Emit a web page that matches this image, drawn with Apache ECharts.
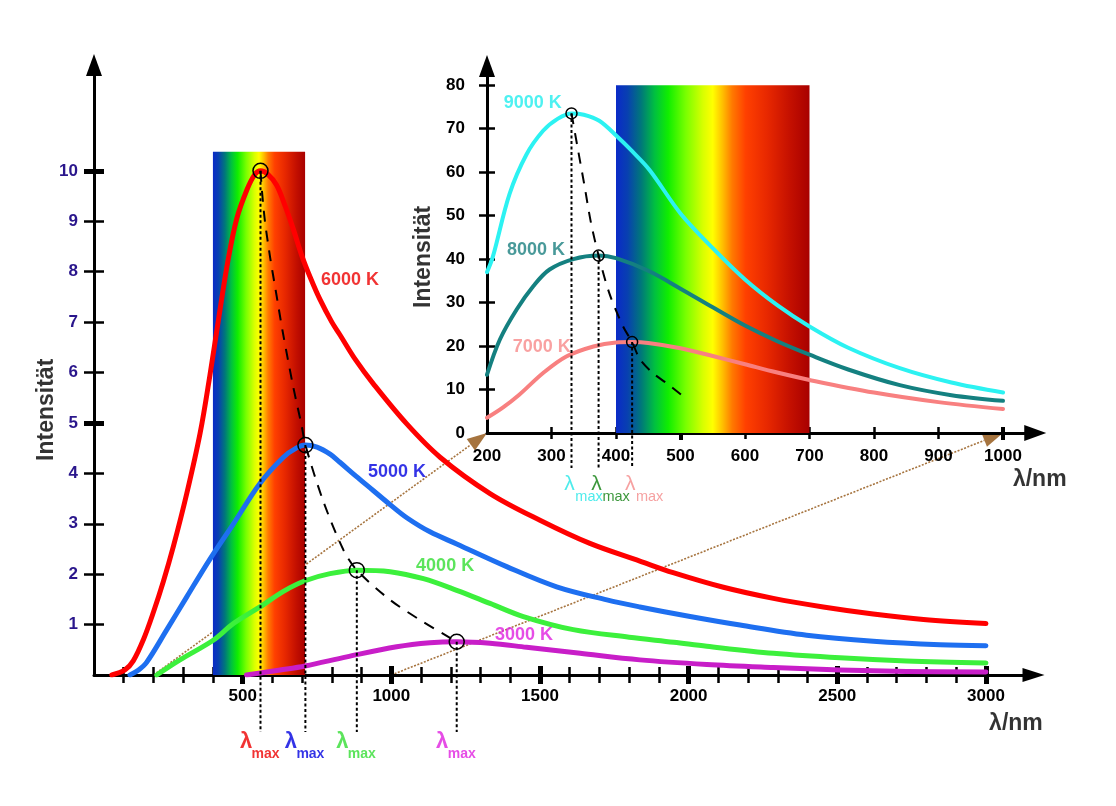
<!DOCTYPE html>
<html>
<head>
<meta charset="utf-8">
<title>Planck</title>
<script src="https://cdn.jsdelivr.net/npm/echarts@6/dist/echarts.min.js"></script>
<style>
  html, body { margin: 0; padding: 0; background: #fff; }
  #chart { width: 1116px; height: 806px; }
</style>
</head>
<body>
<div id="chart"></div>
<script>
const FONT = 'Liberation Sans, Arial, sans-serif'
const INDIGO = '#2a168c'

// --- Hauptdiagramm (nm, Intensität) ---
const t6000 = [[60,0],[104,0.1],[132,0.28],[166,0.7],[200,1.25],[233,1.85],[267,2.55],[312,3.6],[357,4.8],[390,5.95],[420,7.1],[450,8.2],[480,9.05],[514,9.62],[540,9.92],[560,10],[585,9.93],[614,9.72],[640,9.35],[670,8.85],[700,8.3],[730,7.85],[760,7.45],[800,7.0],[827,6.75],[880,6.25],[939,5.78],[1052,4.98],[1164,4.32],[1332,3.6],[1500,3.07],[1668,2.61],[1836,2.26],[1948,2.03],[2117,1.74],[2285,1.52],[2453,1.35],[2621,1.21],[2790,1.1],[3000,1.02]]
const t5000 = [[121,0],[150,0.1],[177,0.25],[244,0.89],[312,1.55],[390,2.3],[469,3.0],[558,3.8],[637,4.32],[680,4.5],[711,4.56],[750,4.52],[794,4.38],[827,4.22],[880,3.95],[939,3.66],[1000,3.36],[1052,3.12],[1130,2.84],[1220,2.6],[1388,2.15],[1556,1.75],[1725,1.49],[1836,1.35],[2005,1.16],[2173,0.99],[2397,0.79],[2621,0.67],[2846,0.6],[3000,0.58]]
const t4000 = [[211,0],[289,0.3],[401,0.69],[469,1.02],[558,1.35],[637,1.66],[710,1.87],[794,2.01],[884,2.08],[996,2.05],[1108,1.91],[1220,1.68],[1332,1.42],[1444,1.16],[1612,0.9],[1800,0.75],[1950,0.65],[2061,0.57],[2285,0.43],[2509,0.34],[2733,0.28],[3000,0.24]]
const t3000 = [[513,0],[626,0.1],[710,0.18],[850,0.36],[1018,0.56],[1130,0.64],[1220,0.66],[1332,0.63],[1455,0.55],[1635,0.43],[1836,0.3],[2061,0.21],[2285,0.15],[2509,0.1],[2733,0.07],[3000,0.06]]
const peaksMain = [[560,10],[711,4.56],[884,2.08],[1220,0.66]]
const wienMain = [[560,10],[565,9.6],[575,9.0],[592,8.3],[612,7.6],[635,6.8],[670,5.72],[699,4.93],[711,4.56],[771,3.45],[839,2.48],[884,2.08],[996,1.49],[1108,1.05],[1220,0.66]]
const tempsMain = ['6000 K', '5000 K', '4000 K', '3000 K']
const tempsMainAt = [[861,7.84],[1019,4.03],[1181,2.16],[1446,0.79]]
const bandMain = [400, 710, 10.38]
const mainXTicks = [100,200,300,400,500,600,700,800,900,1000,1100,1200,1300,1400,1500,1600,1700,1800,1900,2000,2100,2200,2300,2400,2500,2600,2700,2800,2900,3000]
const mainXMajor = [500,1000,1500,2000,2500,3000]
const mainYTicks = [1,2,3,4,5,6,7,8,9,10]
const mainYMajor = [5,10]

// --- Ausschnitt (200 - 1000 nm) ---
const t9000 = [[200,37],[209,40.5],[235,55],[261,64],[287,69.5],[310,72.3],[331,73.5],[350,73.2],[374,71.8],[401,68.3],[425,64.8],[452,60.5],[500,50.5],[550,42.5],[600,35.3],[650,29.4],[700,24.5],[760,19.6],[840,14.9],[920,11.6],[1000,9.3]]
const t8000 = [[200,13.4],[220,21.5],[246,28.4],[272,33.8],[297,37.6],[334,40],[373,40.8],[400,40.2],[450,37.3],[500,33.2],[550,28.9],[600,24.7],[650,21.1],[700,18],[760,14.6],[840,11],[920,8.7],[1000,7.4]]
const t7000 = [[200,3.5],[225,5.9],[250,8.8],[287,13.8],[323,17.6],[365,19.9],[400,20.8],[425,20.9],[450,20.7],[500,19.5],[550,17.7],[600,15.8],[650,13.9],[700,12.2],[800,9.3],[900,7.1],[1000,5.5]]
const peaksInset = [[331,73.5],[373,40.8],[425,20.9]]
const wienInset = [[331,73.5],[340,66],[351,57],[361,48.5],[373,40.8],[390,32],[411,24.5],[425,20.9],[437,17],[457,13.8],[478,11.5],[501,8.8]]
const tempsInset = ['9000 K', '8000 K', '7000 K']
const tempsInsetAt = [[271,75.9],[276,42.1],[285,19.8]]
const bandInset = [400, 700, 80]
const insetXLabels = [200,300,400,500,600,700,800,900,1000]
const insetXTicks = [300,400,500,600,700,800,900,1000]
const insetXMajor = [500,1000]
const insetYLabels = [0,10,20,30,40,50,60,70,80]
const insetYTicks = [10,20,30,40,50,60,70,80]

// Pfeile vom Hauptdiagramm in den Ausschnitt (nm unten -> nm oben)
const zoomLinks = [[200, 200], [1000, 1000]]

const mainColors = ['#ff0000', '#1e6ff0', '#3cf03c', '#c81ec8']
const mainTextColors = ['#ee0000', '#0000e0', '#33dd33', '#e020e0']
const insetColors = ['#2cf2f2', '#148080', '#f88080']
const insetTextColors = ['#22eeee', '#1a8080', '#f88a8a']
const insetLambdaColors = ['#22e6e6', '#0b7d0b', '#f48a8a']

const spectrumStops = [
  { offset: 0, color: '#0a2ac8' }, { offset: 0.06, color: '#0840b0' },
  { offset: 0.13, color: '#00787a' }, { offset: 0.2, color: '#00c040' },
  { offset: 0.27, color: '#10ee00' }, { offset: 0.36, color: '#78ff00' },
  { offset: 0.45, color: '#d8ff00' }, { offset: 0.5, color: '#ffff00' },
  { offset: 0.55, color: '#ffc000' }, { offset: 0.6, color: '#ff7a00' },
  { offset: 0.67, color: '#ff4000' }, { offset: 0.78, color: '#e82800' },
  { offset: 0.9, color: '#c41000' }, { offset: 1, color: '#a80000' }
]

const chart = echarts.init(document.getElementById('chart'))

// Achsen: eine mit Linie + Beschriftung, weitere nur für Striche (beidseitig durch offset)
const xBase = (grid, min, max) => ({
    type: 'value', gridIndex: grid, min, max, position: 'bottom',
    splitLine: { show: false }
})
const yBase = (grid, min, max) => ({
    type: 'value', gridIndex: grid, min, max, position: 'left',
    splitLine: { show: false }
})
const lineAxis = (size) => ({
    show: true, onZero: false,
    lineStyle: { color: '#000', width: 3 },
    symbol: ['none', 'triangle'], symbolSize: size
})
const tickOnly = (values, offset, length, width) => ({
    offset,
    axisLine: { show: false, onZero: false },
    axisLabel: { show: false },
    axisTick: { show: true, customValues: values, length, lineStyle: { color: '#000', width } }
})
const labelStyle = (values, margin, color) => ({
    customValues: values, margin, color,
    formatter: (v) => String(v),
    fontSize: 17, fontWeight: 'bold', fontFamily: FONT
})

const xAxis = [
    { ...xBase(0, 0, 3160), axisLine: lineAxis([14, 22]), axisTick: { show: false },
      axisLabel: labelStyle(mainXMajor, 13, (v) => v === 500 ? INDIGO : '#000') },
    { ...xBase(0, 0, 3160), ...tickOnly(mainXTicks, -8, 16, 2.5) },
    { ...xBase(0, 0, 3160), ...tickOnly(mainXMajor, -9, 18, 5) },
    { ...xBase(1, 200, 1050), axisLine: lineAxis([16, 22]), axisTick: { show: false },
      axisLabel: labelStyle(insetXLabels, 15, '#000') },
    { ...xBase(1, 200, 1050), ...tickOnly(insetXTicks, -6, 12, 2.5) },
    { ...xBase(1, 200, 1050), ...tickOnly(insetXMajor, -6, 13, 4) }
]
const yAxis = [
    { ...yBase(0, 0, 12.1), axisLine: lineAxis([16, 22]), axisTick: { show: false },
      axisLabel: labelStyle(mainYTicks, 16, INDIGO) },
    { ...yBase(0, 0, 12.1), ...tickOnly(mainYTicks, -10, 20, 2.5) },
    { ...yBase(0, 0, 12.1), ...tickOnly(mainYMajor, -10, 20, 5) },
    { ...yBase(1, 0, 84.4), axisLine: lineAxis([16, 22]), axisTick: { show: false },
      axisLabel: labelStyle(insetYLabels, 22, '#000') },
    { ...yBase(1, 0, 84.4), ...tickOnly(insetYTicks, -8, 16, 2.5) }
]

const spectrum = (band, xi, yi) => ({
    type: 'custom', xAxisIndex: xi, yAxisIndex: yi, z: 1, silent: true, data: [band],
    renderItem: (params, api) => {
        const a = api.coord([api.value(0), api.value(2)])
        const b = api.coord([api.value(1), 0])
        return {
            type: 'rect',
            shape: { x: a[0], y: a[1], width: b[0] - a[0], height: b[1] - a[1] },
            style: { fill: new echarts.graphic.LinearGradient(0, 0, 1, 0, spectrumStops) }
        }
    }
})
const curve = (data, color, width, xi, yi) => ({
    type: 'line', data, xAxisIndex: xi, yAxisIndex: yi, smooth: 0.35,
    showSymbol: false, silent: true, z: 3,
    lineStyle: { color, width, cap: 'round', join: 'round' }
})
const dashed = (data, xi, yi) => ({
    type: 'line', data, xAxisIndex: xi, yAxisIndex: yi, smooth: 0.3, showSymbol: false,
    silent: true, z: 4, lineStyle: { color: '#000', width: 2, type: [11, 9] }
})
const drop = (p, bottom, xi, yi) => ({
    type: 'line', data: [p, [p[0], bottom]], xAxisIndex: xi, yAxisIndex: yi, showSymbol: false,
    clip: false, silent: true, z: 4, lineStyle: { color: '#000', width: 2, type: [3, 2.5] }
})
const circles = (data, size, xi, yi) => ({
    type: 'scatter', data, xAxisIndex: xi, yAxisIndex: yi, symbol: 'circle', symbolSize: size,
    silent: true, z: 5,
    itemStyle: { color: 'rgba(0,0,0,0)', borderColor: '#000', borderWidth: 1.5, opacity: 1 }
})
// Texte an Datenkoordinaten
const notes = (items, xi, yi) => ({
    type: 'scatter', xAxisIndex: xi, yAxisIndex: yi, symbolSize: 1, clip: false, silent: true, z: 6,
    itemStyle: { color: 'rgba(0,0,0,0)' },
    data: items.map(n => ({
        value: n.at,
        label: {
            show: true, position: 'inside', formatter: n.text, offset: n.offset || [0, 0],
            color: n.color, fontSize: n.size, fontWeight: n.weight || 'bold',
            rotate: n.rotate || 0, fontFamily: FONT
        }
    }))
})

const mainBottom = -1.13
const insetBottom = -8.05
const mainNotes = [
    ...tempsMain.map((t, i) => ({ text: t, at: tempsMainAt[i], color: mainTextColors[i], size: 18 })),
    ...peaksMain.map((p, i) => ({ text: 'λ', at: [p[0], mainBottom], offset: [-14.5, 9.5], color: mainTextColors[i], size: 22 })),
    ...peaksMain.map((p, i) => ({ text: 'max', at: [p[0], mainBottom], offset: [5, 22], color: mainTextColors[i], size: 14 })),
    { text: 'λ/nm', at: [3101, -0.97], color: '#000', size: 23 },
    { text: 'Intensität', at: [-158, 5.26], color: '#000', size: 23, rotate: 90 }
]
const insetNotes = [
    ...tempsInset.map((t, i) => ({ text: t, at: tempsInsetAt[i], color: insetTextColors[i], size: 18 })),
    ...peaksInset.map((p, i) => ({ text: 'λ', at: [p[0], insetBottom], offset: [-2, 16], color: insetLambdaColors[i], size: 21, weight: 'normal' })),
    ...peaksInset.map((p, i) => ({ text: 'max', at: [p[0], insetBottom], offset: [17.5, 28.5], color: insetLambdaColors[i], size: 14.5, weight: 'normal' })),
    { text: 'λ/nm', at: [1057, -10.8], color: '#000', size: 23 },
    { text: 'Intensität', at: [102.3, 40.5], color: '#000', size: 23, rotate: 90 }
]

const option = {
    backgroundColor: '#fff',
    animation: false,
    textStyle: { fontFamily: FONT },
    grid: [
        { left: 94, top: 65, width: 939.5, height: 610, outerBoundsMode: 'none' },
        { left: 487, top: 66, width: 548.25, height: 367, outerBoundsMode: 'none' }
    ],
    xAxis,
    yAxis,
    series: [
        spectrum(bandMain, 0, 0),
        spectrum(bandInset, 3, 3),
        ...[t6000, t5000, t4000, t3000].map((d, i) => curve(d, mainColors[i], 5, 0, 0)),
        ...[t9000, t8000, t7000].map((d, i) => curve(d, insetColors[i], 4, 3, 3)),
        dashed(wienMain, 0, 0),
        dashed(wienInset, 3, 3),
        ...peaksMain.map(p => drop(p, mainBottom, 0, 0)),
        ...peaksInset.map(p => drop(p, insetBottom, 3, 3)),
        circles(peaksMain, 15, 0, 0),
        circles(peaksInset, 11, 3, 3),
        notes(mainNotes, 0, 0),
        notes(insetNotes, 3, 3)
    ]
}
chart.setOption(option)

// braune Pfeile: Position über die Achsen beider Diagramme
const brown = '#a6743f'
const links = zoomLinks.map(([a, b]) => {
    const p0 = chart.convertToPixel({ xAxisIndex: 0, yAxisIndex: 0 }, [a, 0])
    const p1 = chart.convertToPixel({ xAxisIndex: 3, yAxisIndex: 3 }, [b, 0])
    const dx = p1[0] - p0[0], dy = p1[1] - p0[1]
    const len = Math.sqrt(dx * dx + dy * dy)
    const ux = dx / len, uy = dy / len
    const head = 20, half = 7
    const bx = p1[0] - ux * head, by = p1[1] - uy * head
    return {
        type: 'group', z: 10, silent: true,
        children: [
            { type: 'line', shape: { x1: p0[0], y1: p0[1], x2: bx, y2: by },
              style: { stroke: brown, lineWidth: 1.6, lineDash: [2, 1.5] } },
            { type: 'polygon',
              shape: { points: [[p1[0], p1[1]], [bx - uy * half, by + ux * half], [bx + uy * half, by - ux * half]] },
              style: { fill: brown } }
        ]
    }
})
chart.setOption({ graphic: links })
</script>
</body>
</html>
